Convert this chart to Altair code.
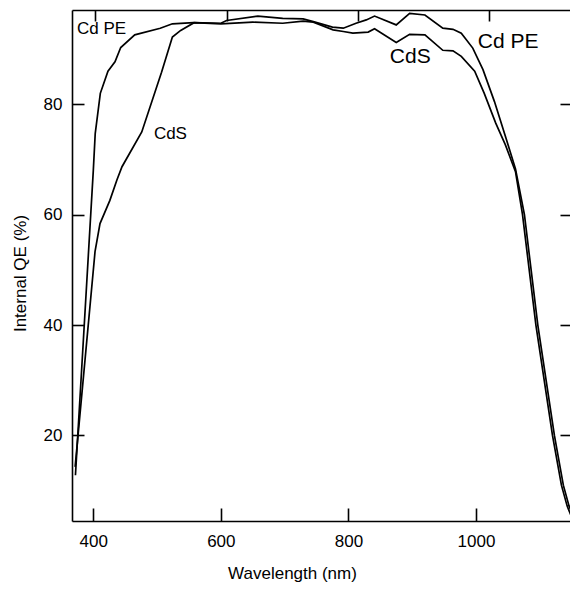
import altair as alt
import pandas as pd

# ---- data ----
cdpe_nm = [372, 400, 403, 411, 423, 434, 443, 465, 505, 524,
           557, 600, 609, 658, 697, 729, 745, 775, 792, 812,
           828, 841, 875, 896, 920, 948, 964, 977, 995, 1011,
           1029, 1047, 1062, 1076, 1097, 1123, 1137, 1146, 1152, 1158]
cdpe_qe = [12.8, 68.0, 74.7, 82.0, 86.0, 87.7, 90.3, 92.6, 93.8, 94.6,
           94.8, 94.7, 95.2, 96.0, 95.6, 95.5, 95.0, 94.0, 93.8, 94.7,
           95.3, 96.0, 94.4, 96.5, 96.2, 93.8, 93.6, 92.9, 90.2, 86.3,
           80.5, 73.9, 68.3, 60.0, 40.0, 20.0, 11.0, 7.2, 5.6, 4.6]

cds_nm = [371.5, 402.7, 410.5, 426, 437, 445, 476, 507, 524, 537,
          558, 600, 650, 697, 729, 745, 776, 792, 807, 831,
          841, 875, 896, 920, 948, 964, 977, 998, 1013, 1031,
          1046, 1062, 1073, 1094, 1120, 1134, 1143, 1149, 1155]
cds_qe = [14.3, 53.3, 58.4, 62.6, 66.3, 68.7, 75.0, 85.8, 92.2, 93.4,
          94.8, 94.6, 94.9, 94.7, 95.1, 94.9, 93.5, 93.2, 92.9, 93.1,
          93.7, 91.2, 92.7, 92.6, 89.8, 89.7, 88.7, 86.0, 82.0, 76.6,
          72.7, 67.8, 60.0, 40.0, 20.0, 11.0, 7.2, 5.5, 4.6]

small_labels = ["Cd PE", "CdS"]
small_nm = [374.5, 495]
small_qe = [92.7, 73.8]

big_labels = ["CdS", "Cd PE"]
big_nm = [865, 1003]
big_qe = [87.5, 90.15]

x_ticks = [400, 600, 800, 1000]
y_ticks = [20, 40, 60, 80]

FONT = "Liberation Sans"

df = pd.concat([
    pd.DataFrame({"nm": cdpe_nm, "qe": cdpe_qe, "series": "Cd PE"}),
    pd.DataFrame({"nm": cds_nm, "qe": cds_qe, "series": "CdS"}),
], ignore_index=True)

xscale = alt.Scale(domain=[366.6, 1160], nice=False, zero=False)
yscale = alt.Scale(domain=[4.5, 97.1], nice=False, zero=False)

xaxis = alt.Axis(values=x_ticks, title="Wavelength (nm)", format="d",
                 tickSize={"expr": "-13"}, labelPadding=25,
                 titleX=220, titleY=57, titleBaseline="alphabetic",
                 titleAlign="center")
yaxis = alt.Axis(values=y_ticks, title="Internal QE (%)",
                 tickSize={"expr": "-12"}, labelPadding=22,
                 titleX=-47, titleY=263, titleAngle=270,
                 titleBaseline="alphabetic", titleAlign="center")

X = alt.X("nm:Q", scale=xscale, axis=xaxis, title="Wavelength (nm)")
Y = alt.Y("qe:Q", scale=yscale, axis=yaxis, title="Internal QE (%)")

lines = alt.Chart(df).mark_line(color="black", strokeWidth=1.7).encode(
    x=X, y=Y, detail="series:N",
)

small_df = pd.DataFrame({"nm": small_nm, "qe": small_qe, "label": small_labels})
big_df = pd.DataFrame({"nm": big_nm, "qe": big_qe, "label": big_labels})

small_text = alt.Chart(small_df).mark_text(
    font=FONT, fontSize=17, align="left", baseline="alphabetic", color="black"
).encode(x=X, y=Y, text="label:N")

big_text = alt.Chart(big_df).mark_text(
    font=FONT, fontSize=21, align="left", baseline="alphabetic", color="black"
).encode(x=X, y=Y, text="label:N")

main = alt.layer(lines, small_text, big_text)

frame_df = pd.DataFrame({"xt": x_ticks, "yt": y_ticks})
frame = alt.Chart(frame_df).mark_point(opacity=0).encode(
    x=alt.X("xt:Q", scale=alt.Scale(domain=[364.5, 1135], nice=False, zero=False),
            axis=alt.Axis(orient="top", values=x_ticks, labels=False, title=None,
                          tickSize={"expr": "-11"})),
    y=alt.Y("yt:Q", scale=yscale,
            axis=alt.Axis(orient="right", values=y_ticks, labels=False, title=None,
                          tickSize={"expr": "-10"}, domain=False, offset=-8)),
)

chart = alt.layer(main, frame).resolve_scale(
    x="independent", y="independent"
).properties(
    width=506, height=511,
    autosize=alt.AutoSizeParams(type="none"),
    padding={"left": 64, "top": 2, "right": -8, "bottom": 61},
).configure_axis(
    domainColor="black", domainWidth=1.6,
    tickColor="black", tickWidth=1.6,
    labelColor="black", labelFont=FONT, labelFontSize=17,
    titleColor="black", titleFont=FONT, titleFontSize=17, titleFontWeight="normal",
    grid=False,
).configure_view(stroke=None)

chart.save("out.html", embed_options={"renderer": "svg", "actions": False})
